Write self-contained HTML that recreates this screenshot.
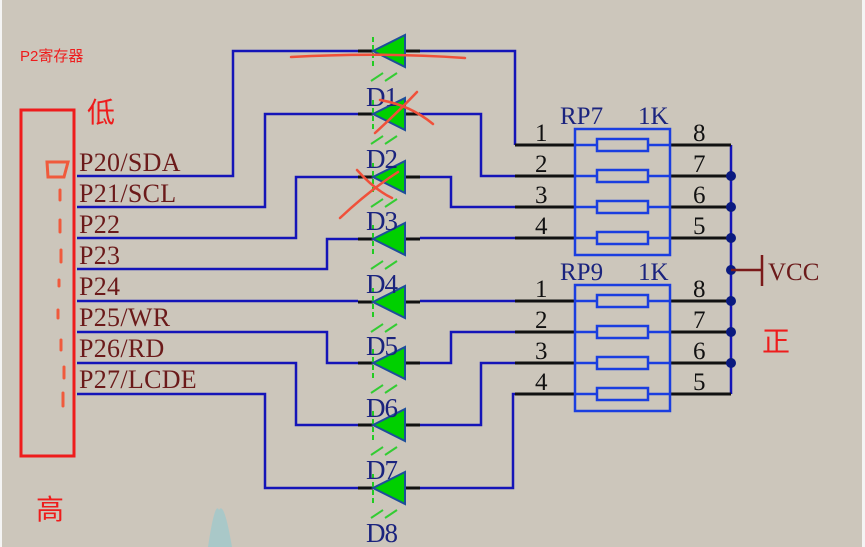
<!DOCTYPE html>
<html><head><meta charset="utf-8"><style>
html,body{margin:0;padding:0;width:865px;height:547px;overflow:hidden;background:#ccc6bb}
svg{display:block}
</style></head><body>
<svg width="865" height="547" viewBox="0 0 865 547" xmlns="http://www.w3.org/2000/svg">
<rect width="865" height="547" fill="#ccc6bb"/>
<rect x="0" y="0" width="2" height="547" fill="#f4f4f4"/>
<rect x="862" y="0" width="3" height="547" fill="#f4f4f4"/>
<path d="M208 547 Q215 500 219 510 Q224 500 232 547 Z" fill="#a9c8c8"/>
<g fill="none" stroke="#1414b8" stroke-width="2.5">
<path d="M77 176 H233 V51 H358"/>
<path d="M77 207 H265 V114 H358"/>
<path d="M77 238 H296 V177 H358"/>
<path d="M77 269 H327 V239 H358"/>
<path d="M77 301 H358"/>
<path d="M77 332 H327 V363 H358"/>
<path d="M77 363 H296 V425 H358"/>
<path d="M77 394 H265 V488 H358"/>
<path d="M420 51 H515 V145"/>
<path d="M420 114 H481 V176 H515"/>
<path d="M420 177 H451 V207 H515"/>
<path d="M420 238 H515"/>
<path d="M420 301 H515"/>
<path d="M420 363 H451 V332 H515"/>
<path d="M420 425 H481 V363 H515"/>
<path d="M420 488 H513 V394 H515"/>
<path d="M731 145 V394"/>
</g>
<g id="dd">
<g transform="translate(0,51)"><line x1="358" y1="0" x2="373" y2="0" stroke="#111" stroke-width="3"/><line x1="405" y1="0" x2="420" y2="0" stroke="#111" stroke-width="3"/><line x1="373" y1="-14" x2="373" y2="18" stroke="#2c2" stroke-width="2" stroke-dasharray="5,3"/><polygon points="373,0 405,-16 405,16" fill="#00d000" stroke="#1d4e9a" stroke-width="2"/><line x1="371" y1="30" x2="383" y2="22" stroke="#3c3" stroke-width="2"/><line x1="385" y1="30" x2="397" y2="22" stroke="#3c3" stroke-width="2"/></g>
</g>
<use href="#dd" y="63"/>
<use href="#dd" y="126"/>
<use href="#dd" y="188"/>
<use href="#dd" y="251"/>
<use href="#dd" y="312"/>
<use href="#dd" y="374"/>
<use href="#dd" y="437"/>
<g font-family="Liberation Serif, serif" font-size="27" fill="#1a237e" letter-spacing="-1">
<text x="366" y="106">D1</text><text x="366" y="168">D2</text><text x="366" y="230">D3</text><text x="366" y="293">D4</text><text x="366" y="355">D5</text><text x="366" y="417">D6</text><text x="366" y="479">D7</text><text x="366" y="542">D8</text>
</g>
<g id="rp">
<g stroke="#111" stroke-width="3"><line x1="515" y1="145" x2="575" y2="145"/><line x1="515" y1="176" x2="575" y2="176"/><line x1="515" y1="207" x2="575" y2="207"/><line x1="515" y1="238" x2="575" y2="238"/>
<line x1="670" y1="145" x2="731" y2="145"/><line x1="670" y1="176" x2="731" y2="176"/><line x1="670" y1="207" x2="731" y2="207"/><line x1="670" y1="238" x2="731" y2="238"/></g>
<g fill="none" stroke="#1a3ee0" stroke-width="2.5">
<rect x="575" y="129" width="95" height="126"/>
<path d="M575 145 H597 M648 145 H670 M575 176 H597 M648 176 H670 M575 207 H597 M648 207 H670 M575 238 H597 M648 238 H670"/>
<rect x="597" y="139" width="51" height="12"/><rect x="597" y="170" width="51" height="12"/><rect x="597" y="201" width="51" height="12"/><rect x="597" y="232" width="51" height="12"/>
</g>
<g font-family="Liberation Serif, serif" font-size="25" fill="#111">
<text x="535" y="141">1</text><text x="535" y="172">2</text><text x="535" y="203">3</text><text x="535" y="234">4</text>
<text x="693" y="141">8</text><text x="693" y="172">7</text><text x="693" y="203">6</text><text x="693" y="234">5</text>
</g>
</g>
<use href="#rp" y="156"/>
<g font-family="Liberation Serif, serif" font-size="25" fill="#1a237e">
<text x="560" y="124">RP7</text><text x="638" y="124">1K</text>
<text x="560" y="280">RP9</text><text x="638" y="280">1K</text>
</g>
<g fill="#0a1a80">
<circle cx="731" cy="176" r="5"/><circle cx="731" cy="207" r="5"/><circle cx="731" cy="238" r="5"/><circle cx="731" cy="270" r="5"/><circle cx="731" cy="301" r="5"/><circle cx="731" cy="332" r="5"/><circle cx="731" cy="363" r="5"/>
</g>
<path d="M731 270 H762 M762 255 V286" stroke="#7a1a1a" stroke-width="2.5" fill="none"/>
<text x="768" y="280" font-family="Liberation Serif, serif" font-size="25" fill="#6b1a1a">VCC</text>
<g font-family="Liberation Serif, serif" font-size="26" fill="#6b1a1a" letter-spacing="0.3">
<text x="79" y="171">P20/SDA</text><text x="79" y="202">P21/SCL</text><text x="79" y="233">P22</text><text x="79" y="264">P23</text><text x="79" y="295">P24</text><text x="79" y="326">P25/WR</text><text x="79" y="357">P26/RD</text><text x="79" y="388">P27/LCDE</text>
</g>
<rect x="21" y="110" width="53" height="346" fill="none" stroke="#ee1c1c" stroke-width="3"/>
<path d="M47 162 H68 L64 177 H48 Z" fill="none" stroke="#f05a3c" stroke-width="3"/>
<g stroke="#f05a3c" stroke-width="3" stroke-linecap="round">
<line x1="60" y1="190" x2="60" y2="200"/><line x1="60" y1="220" x2="60" y2="232"/><line x1="61" y1="250" x2="61" y2="262"/><line x1="59" y1="280" x2="59" y2="286"/><line x1="58" y1="310" x2="58" y2="318"/><line x1="61" y1="340" x2="61" y2="350"/><line x1="64" y1="367" x2="64" y2="378"/><line x1="63" y1="393" x2="63" y2="406"/>
</g>
<g stroke="#f0503a" stroke-width="2.5" fill="none" stroke-linecap="round">
<path d="M291 57 Q380 52 465 58"/>
<path d="M375 133 Q400 110 417 92"/>
<path d="M380 100 Q410 105 433 124"/>
<path d="M340 218 Q370 190 398 172"/>
<path d="M357 170 Q375 190 392 198"/>
</g>
<g font-family="Liberation Sans, 'Noto Sans CJK SC', sans-serif" fill="#ee1c1c">
<text x="20" y="61" font-size="15">P2寄存器</text>
<text x="87" y="122" font-size="28">低</text>
<text x="36" y="519" font-size="28">高</text>
<text x="762" y="351" font-size="28">正</text>
</g>
</svg>
</body></html>
